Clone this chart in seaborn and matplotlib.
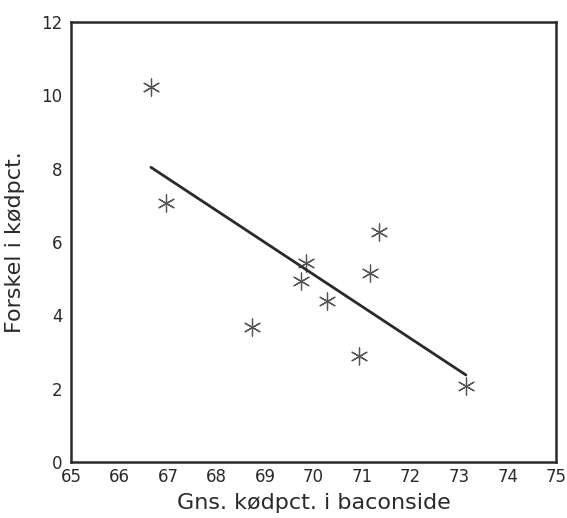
import matplotlib
matplotlib.use("Agg")
import matplotlib.pyplot as plt
import seaborn as sns
import pandas as pd
import numpy as np

x_vals = [66.65, 66.97, 68.74, 69.75, 69.85, 70.27, 70.93, 71.17, 71.34, 73.14]
y_vals = [10.23, 7.07, 3.67, 4.94, 5.43, 4.40, 2.90, 5.15, 6.28, 2.08]
x_ticks = list(range(65, 76))
y_ticks = list(range(0, 13, 2))
x_label = "Gns. kødpct. i baconside"
y_label = "Forskel i kødpct."

df = pd.DataFrame({"x": x_vals, "y": y_vals})

sns.set_theme(style="white")
plt.rcParams['font.family'] = ['DejaVu Sans']

fig = plt.figure(figsize=(5.67, 5.18), dpi=100)
ax = fig.add_axes([0.125, 0.108, 0.856, 0.85])

ink = "#2a2a2a"
sns.regplot(data=df, x="x", y="y", ci=None, ax=ax,
            marker=(6, 2, 0),
            scatter_kws=dict(s=150, color=ink, linewidths=0.9),
            line_kws=dict(color=ink, lw=2.0))

ax.set_xlim(65, 75)
ax.set_ylim(0, 12)
ax.set_xticks(x_ticks)
ax.set_yticks(y_ticks)
ax.set_yticks(list(range(1, 12, 2)), minor=True)
ax.tick_params(axis="both", which="both", direction="in", length=5, width=1,
               color=ink, labelcolor=ink, labelsize=12)
ax.tick_params(axis="x", pad=4)
ax.tick_params(axis="y", pad=6)
for s in ax.spines.values():
    s.set_color(ink)
    s.set_linewidth(1.8)
ax.set_xlabel(x_label, fontsize=16, color=ink, labelpad=5)
ax.set_ylabel(y_label, fontsize=16, color=ink, labelpad=12)

fig.savefig("out.png", dpi=100)
